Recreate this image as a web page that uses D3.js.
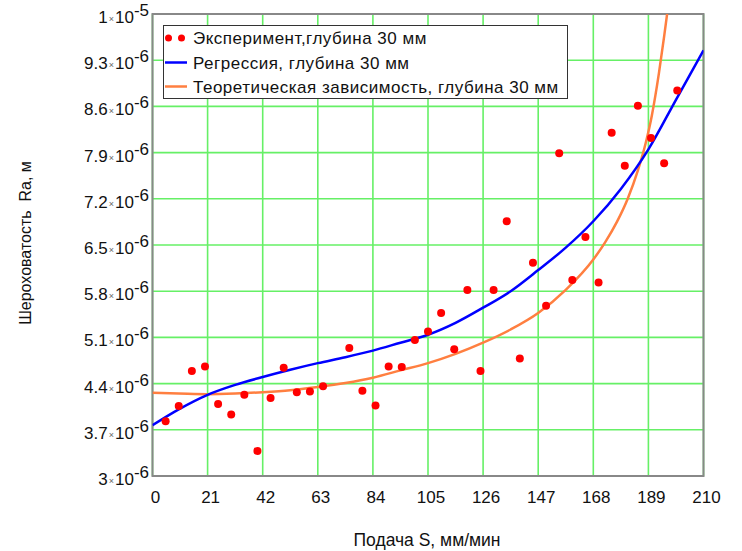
<!DOCTYPE html>
<html>
<head>
<meta charset="utf-8">
<script src="https://cdn.jsdelivr.net/npm/d3@7"></script>
<style>
  html, body { margin: 0; padding: 0; background: #fff; }
  svg { display: block; }
  text { font-family: "Liberation Sans", Arial, sans-serif; }
</style>
</head>
<body>
<svg id="chart" width="742" height="551"></svg>
<script>
// ---- data ----
const expS  = [5,10,15,20,25,30,35,40,45,50,55,60,65,75,80,85,90,95,100,105,110,115,120,125,130,135,140,145,150,155,160,165,170,175,180,185,190,195,200];
const expRa = [3.83e-6,4.06e-6,4.59e-6,4.66e-6,4.09e-6,3.93e-6,4.23e-6,3.38e-6,4.18e-6,4.64e-6,4.27e-6,4.28e-6,4.36e-6,4.94e-6,4.29e-6,4.07e-6,4.66e-6,4.65e-6,5.06e-6,5.19e-6,5.47e-6,4.92e-6,5.82e-6,4.59e-6,5.82e-6,6.86e-6,4.78e-6,6.23e-6,5.58e-6,7.89e-6,5.97e-6,6.62e-6,5.93e-6,8.20e-6,7.70e-6,8.61e-6,8.12e-6,7.74e-6,8.84e-6];

const regS  = [0,10,21,31.5,42,52.5,63,73.5,84,94.5,105,115.5,126,136.5,147,157.5,168,178.5,189,199.5,210];
const regRa = [3.77e-6,4.01e-6,4.23e-6,4.38e-6,4.50e-6,4.61e-6,4.71e-6,4.80e-6,4.90e-6,5.02e-6,5.14e-6,5.32e-6,5.55e-6,5.80e-6,6.12e-6,6.46e-6,6.86e-6,7.35e-6,7.95e-6,8.70e-6,9.45e-6];

const theoS  = [0,10,21,31.5,42,52.5,63,73.5,84,94.5,105,115.5,126,136.5,147,157.5,168,172.5,177,181,185,188,190.3,193,195,197];
const theoRa = [4.26e-6,4.25e-6,4.24e-6,4.25e-6,4.27e-6,4.30e-6,4.35e-6,4.41e-6,4.49e-6,4.60e-6,4.71e-6,4.85e-6,5.02e-6,5.22e-6,5.47e-6,5.82e-6,6.28e-6,6.54e-6,6.85e-6,7.19e-6,7.63e-6,8.05e-6,8.46e-6,9.10e-6,9.66e-6,10.26e-6];

const xTicks = [0,21,42,63,84,105,126,147,168,189,210];
const yTicks = [3e-6,3.7e-6,4.4e-6,5.1e-6,5.8e-6,6.5e-6,7.2e-6,7.9e-6,8.6e-6,9.3e-6,1e-5];
const yTickMantissa = ["3","3.7","4.4","5.1","5.8","6.5","7.2","7.9","8.6","9.3","1"];
const yTickExponent = ["-6","-6","-6","-6","-6","-6","-6","-6","-6","-6","-5"];

const legendLabels = ["Эксперимент,глубина 30 мм","Регрессия, глубина 30 мм","Теоретическая зависимость, глубина 30 мм"];
const xTitle = "Подача S, мм/мин";
const yTitle = "Шероховатость  Ra, м";

// ---- layout ----
const L = 152.5, R = 703.5, T = 14, B = 476;
const svg = d3.select("#chart");
const x = d3.scaleLinear().domain([0,210]).range([L,R]);
const y = d3.scaleLinear().domain([3e-6,1e-5]).range([B,T]);

svg.append("defs").append("clipPath").attr("id","clip")
  .append("rect").attr("x",L).attr("y",T).attr("width",R-L).attr("height",B-T);

// grid
const grid = svg.append("g");
grid.selectAll("line.gx").data(xTicks).join("line")
  .attr("x1",d=>x(d)).attr("x2",d=>x(d)).attr("y1",T).attr("y2",B)
  .attr("stroke","#66f066").attr("stroke-width",1.6);
grid.selectAll("line.gy").data(yTicks).join("line")
  .attr("y1",d=>y(d)).attr("y2",d=>y(d)).attr("x1",L).attr("x2",R)
  .attr("stroke","#66f066").attr("stroke-width",1.6);

// frame
svg.append("rect").attr("x",L).attr("y",T).attr("width",R-L).attr("height",B-T)
  .attr("fill","none").attr("stroke","#888").attr("stroke-width",2);

// x tick labels
svg.append("g").selectAll("text").data(xTicks).join("text")
  .attr("x",d=>x(d)+3).attr("y",503).attr("text-anchor","middle")
  .attr("font-size",17).attr("fill","#111").text(d=>d);

// y tick labels
const yl = svg.append("g").selectAll("text").data(yTicks).join("text")
  .attr("x",149).attr("y",d=>y(d)+9).attr("text-anchor","end")
  .attr("font-size",17).attr("fill","#111");
yl.append("tspan").text((d,i)=>yTickMantissa[i]);
yl.append("tspan").attr("font-size",9).attr("fill","#666").attr("dx",1).attr("dy",-1).text("×");
yl.append("tspan").attr("dy",1).attr("dx",1).text("10");
yl.append("tspan").attr("dy",-7).text((d,i)=>yTickExponent[i]);

// lines
const plot = svg.append("g").attr("clip-path","url(#clip)");
const lineGen = d3.line().curve(d3.curveMonotoneX);
plot.append("path")
  .attr("d", lineGen(theoS.map((s,i)=>[x(s),y(theoRa[i])])))
  .attr("fill","none").attr("stroke","#ff7f40").attr("stroke-width",2.5);
plot.append("path")
  .attr("d", lineGen(regS.map((s,i)=>[x(s),y(regRa[i])])))
  .attr("fill","none").attr("stroke","#0000ff").attr("stroke-width",2.5);

// points
plot.selectAll("circle").data(expS).join("circle")
  .attr("cx",d=>x(d)).attr("cy",(d,i)=>y(expRa[i])).attr("r",4).attr("fill","#ff0000");

// legend
const lg = svg.append("g");
lg.append("rect").attr("x",163.5).attr("y",25.5).attr("width",404).attr("height",73)
  .attr("fill","#fff").attr("stroke","#333").attr("stroke-width",1);
const rowY = [38, 62.5, 86.5];
lg.append("circle").attr("cx",168.5).attr("cy",rowY[0]).attr("r",3.5).attr("fill","#ff0000");
lg.append("circle").attr("cx",181.5).attr("cy",rowY[0]).attr("r",3.5).attr("fill","#ff0000");
lg.append("line").attr("x1",165).attr("x2",187).attr("y1",rowY[1]).attr("y2",rowY[1])
  .attr("stroke","#0000ff").attr("stroke-width",2.5);
lg.append("line").attr("x1",165).attr("x2",187).attr("y1",rowY[2]).attr("y2",rowY[2])
  .attr("stroke","#ff7f40").attr("stroke-width",2.5);
lg.selectAll("text").data(legendLabels).join("text")
  .attr("x",193).attr("y",(d,i)=>rowY[i]+6).attr("font-size",17)
  .attr("letter-spacing",0.5).attr("fill","#111").text(d=>d);

// axis titles
svg.append("text").attr("x",427).attr("y",546).attr("text-anchor","middle")
  .attr("font-size",17.5).attr("fill","#111").text(xTitle);
svg.append("text").attr("transform","translate(31,243) rotate(-90)")
  .attr("text-anchor","middle").attr("font-size",16).attr("fill","#111")
  .style("white-space","pre").text(yTitle);
</script>
</body>
</html>
